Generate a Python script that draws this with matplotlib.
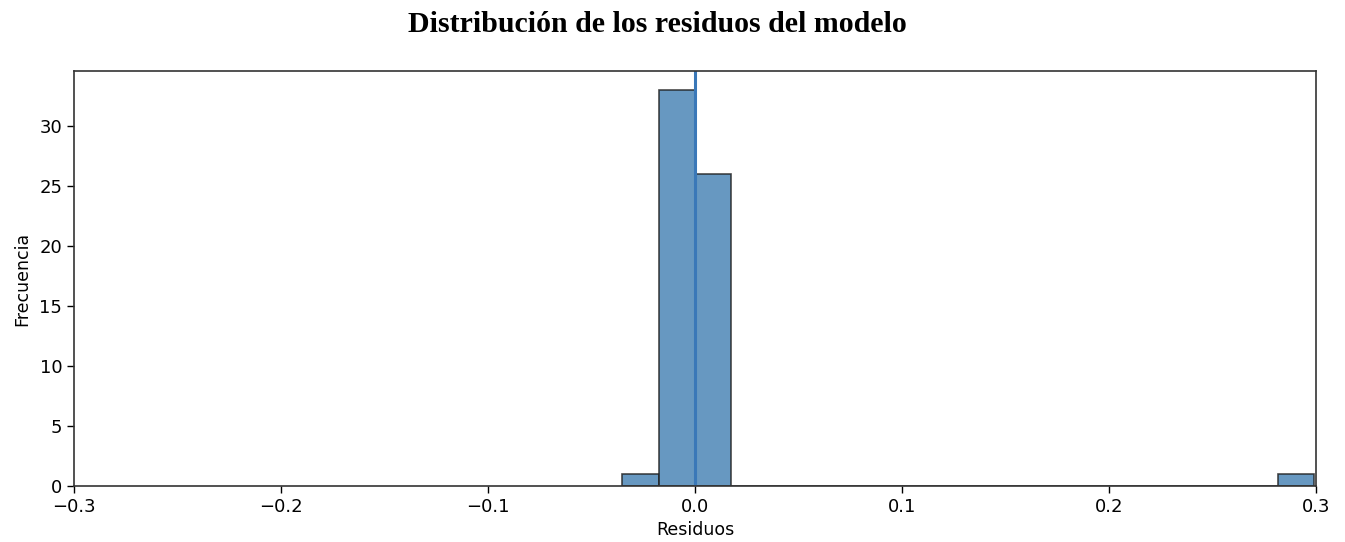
import matplotlib
matplotlib.use("Agg")
import matplotlib.pyplot as plt
import numpy as np

# Histogram data
bin_start = -0.0352
bin_width = 0.0176
counts = [1, 33, 26, 0, 0, 0, 0, 0, 0, 0, 0, 0, 0, 0, 0, 0, 0, 0, 1]
kde_peak_x = 0.0
xticks = [-0.3, -0.2, -0.1, 0.0, 0.1, 0.2, 0.3]
yticks = [0, 5, 10, 15, 20, 25, 30]

edges = bin_start + bin_width * np.arange(len(counts) + 1)

fig = plt.figure(figsize=(13.45, 5.42), dpi=100)
ax = fig.add_axes([0.055, 0.1033, 0.9234, 0.7657])

ax.bar(edges[:-1], counts, width=bin_width, align="edge",
       color="steelblue", alpha=0.82, edgecolor="#222222", linewidth=1.2)
ax.axvline(kde_peak_x, color="#3a78b8", linewidth=2.2)

ax.set_xlim(-0.3, 0.3)
ax.set_ylim(0, max(counts) * 1.048)
ax.set_xticks(xticks)
ax.set_yticks(yticks)
ax.tick_params(labelsize=13, length=5, width=1.0)
ax.set_xlabel("Residuos", fontsize=12.5, labelpad=4)
ax.set_ylabel("Frecuencia", fontsize=12.5, labelpad=6)
for s in ax.spines.values():
    s.set_linewidth(1.2)
    s.set_color("#333333")

fig.text(0.489, 0.955, "Distribución de los residuos del modelo",
         ha="center", va="center", fontsize=21.5, fontweight="bold",
         family="Liberation Serif")

fig.savefig("out.png", dpi=100)
